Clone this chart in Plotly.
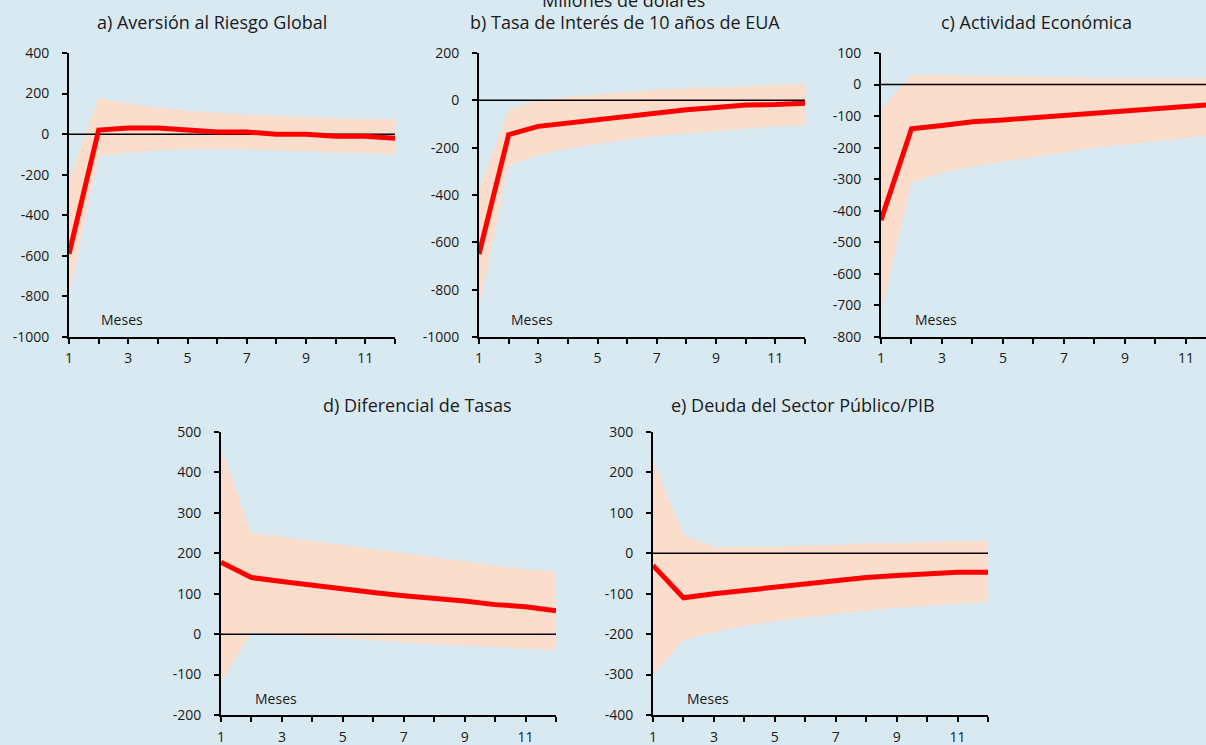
import plotly.graph_objects as go

# ---------------- data ----------------
months = list(range(1, 13))

titles = [
    "a) Aversión al Riesgo Global",
    "b) Tasa de Interés de 10 años de EUA",
    "c) Actividad Económica",
    "d) Diferencial de Tasas",
    "e) Deuda del Sector Público/PIB",
]
main_title = "Millones de dólares"
x_label = "Meses"

a_resp = [-590, 20, 30, 30, 20, 10, 10, 0, 0, -10, -10, -20]
a_up = [-230, 180, 150, 130, 115, 105, 95, 90, 85, 80, 75, 75]
a_lo = [-800, -110, -90, -80, -75, -75, -75, -80, -85, -90, -95, -100]

b_resp = [-650, -145, -110, -95, -80, -65, -55, -40, -30, -20, -18, -12]
b_up = [-380, -40, 0, 15, 25, 35, 45, 50, 55, 60, 65, 70]
b_lo = [-880, -275, -230, -205, -185, -165, -150, -140, -130, -120, -110, -105]

c_resp = [-430, -140, -130, -118, -112, -105, -98, -88, -82, -76, -70, -62]
c_up = [-80, 30, 30, 28, 25, 25, 22, 20, 20, 20, 20, 20]
c_lo = [-720, -310, -280, -260, -245, -230, -215, -200, -190, -180, -170, -160]

d_resp = [178, 140, 130, 120, 112, 103, 95, 90, 82, 73, 68, 58]
d_up = [460, 250, 240, 230, 220, 210, 200, 190, 180, 170, 160, 155]
d_lo = [-120, 5, 0, -5, -10, -15, -20, -25, -28, -32, -35, -40]

e_resp = [-30, -110, -100, -92, -83, -73, -65, -60, -55, -50, -47, -47]
e_up = [230, 45, 15, 15, 15, 20, 20, 25, 25, 28, 30, 30]
e_lo = [-300, -215, -195, -180, -168, -158, -150, -142, -135, -130, -125, -120]

y_ticks_a = [400, 200, 0, -200, -400, -600, -800, -1000]
y_ticks_b = [200, 0, -200, -400, -600, -800, -1000]
y_ticks_c = [100, 0, -100, -200, -300, -400, -500, -600, -700, -800]
y_ticks_d = [500, 400, 300, 200, 100, 0, -100, -200]
y_ticks_e = [300, 200, 100, 0, -100, -200, -300, -400]

x_tick_text = [str(m) if m % 2 == 1 else "" for m in months]

# ---------------- layout geometry ----------------
W, H = 1206, 745
BG = "#D9E9F1"
BAND = "#FBDDCC"
RED = "#FF0000"
TXT = "#1a1a1a"
FONT = "Open Sans"

panels = [
    # resp, up, lo, yticks, x-domain px, y-domain px (top, bottom), x max, title pos px, label standoff
    (a_resp, a_up, a_lo, y_ticks_a, (69, 395), (53, 337), 12, (212, 22), 2),
    (b_resp, b_up, b_lo, y_ticks_b, (479, 805), (53, 337), 12, (625, 22), 2),
    (c_resp, c_up, c_lo, y_ticks_c, (881, 1206), (53, 337), 11.66, (1036, 22), 2),
    (d_resp, d_up, d_lo, y_ticks_d, (221, 556), (432, 715), 12, (417, 405), 3),
    (e_resp, e_up, e_lo, y_ticks_e, (653, 988), (432, 715), 12, (803, 405), 3),
]

fig = go.Figure()
layout_axes = {}
annotations = []

for i, (resp, up, lo, yt, (x0, x1), (ytop, ybot), xmax, (tx, ty), sto) in enumerate(panels):
    n = i + 1
    xa = "x" if n == 1 else f"x{n}"
    ya = "y" if n == 1 else f"y{n}"
    # band
    fig.add_trace(go.Scatter(x=months, y=lo, mode="lines", line=dict(width=0, color=BAND),
                             xaxis=xa, yaxis=ya, showlegend=False, hoverinfo="skip"))
    fig.add_trace(go.Scatter(x=months, y=up, mode="lines", line=dict(width=0, color=BAND),
                             fill="tonexty", fillcolor=BAND,
                             xaxis=xa, yaxis=ya, showlegend=False, hoverinfo="skip"))
    # zero reference line
    fig.add_trace(go.Scatter(x=months, y=[0] * len(months), mode="lines",
                             line=dict(width=1.5, color="black"),
                             xaxis=xa, yaxis=ya, showlegend=False, hoverinfo="skip"))
    # response
    fig.add_trace(go.Scatter(x=months, y=resp, mode="lines", line=dict(width=5, color=RED),
                             xaxis=xa, yaxis=ya, showlegend=False))

    xkey = "xaxis" if n == 1 else f"xaxis{n}"
    ykey = "yaxis" if n == 1 else f"yaxis{n}"
    layout_axes[xkey] = dict(
        domain=[x0 / W, min(x1 / W, 1.0)], anchor=ya, range=[1, xmax],
        tickmode="array", tickvals=months, ticktext=x_tick_text,
        ticks="outside", ticklen=5, tickwidth=1.5, tickcolor="black",
        showline=True, linecolor="black", linewidth=2,
        showgrid=False, zeroline=False, ticklabelstandoff=sto, automargin=False,
        tickfont=dict(family=FONT, size=14, color=TXT),
    )
    layout_axes[ykey] = dict(
        domain=[1 - ybot / H, 1 - ytop / H], anchor=xa, range=[yt[-1], yt[0]],
        tickmode="array", tickvals=yt, ticktext=[str(v) for v in yt],
        ticks="outside", ticklen=5, tickwidth=1.5, tickcolor="black",
        showline=True, linecolor="black", linewidth=2,
        showgrid=False, zeroline=False, ticklabelstandoff=10, automargin=False,
        tickfont=dict(family=FONT, size=14, color=TXT),
    )
    annotations.append(dict(text=titles[i], xref="paper", yref="paper",
                            x=tx / W, y=1 - ty / H, xanchor="center", yanchor="middle",
                            showarrow=False, font=dict(family=FONT, size=18, color=TXT)))
    annotations.append(dict(text=x_label, xref=xa, yref=f"{ya} domain",
                            x=2.8, y=0.06, xanchor="center", yanchor="middle",
                            showarrow=False, font=dict(family=FONT, size=14, color=TXT)))

annotations.append(dict(text=main_title, xref="paper", yref="paper",
                        x=623 / W, y=1.0, xanchor="center", yanchor="middle",
                        showarrow=False, font=dict(family=FONT, size=18, color=TXT)))

fig.update_layout(
    width=W, height=H,
    margin=dict(l=0, r=0, t=0, b=0, autoexpand=False),
    paper_bgcolor=BG, plot_bgcolor=BG,
    annotations=annotations,
    showlegend=False,
    **layout_axes,
)

fig.write_html(
    "out.html",
    config={"displayModeBar": False},
    post_script="document.body.style.margin='0';document.body.style.overflow='hidden';",
)
